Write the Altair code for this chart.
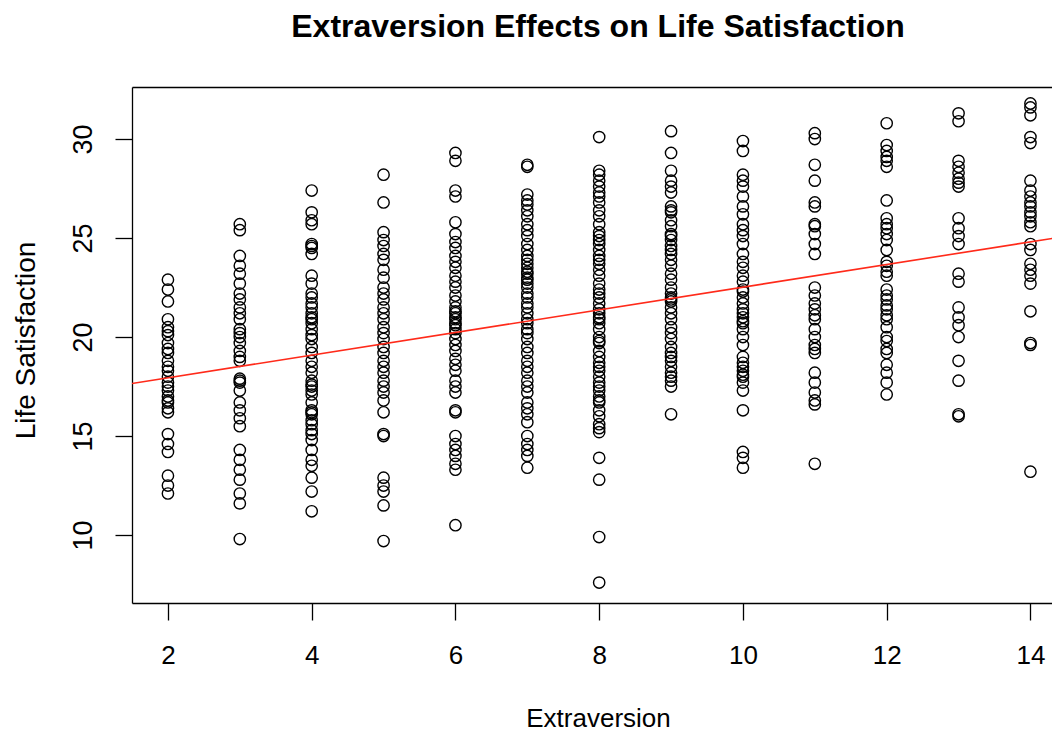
import altair as alt
import pandas as pd

# Life satisfaction scores, one list per extraversion level
ls_2 = [22.9, 22.4, 21.8, 20.9, 20.5, 20.3, 20.1, 19.7, 19.4, 19.2, 18.8, 18.5, 18.3, 18.0,
        17.7, 17.5, 17.3, 17.0, 16.8, 16.7, 16.4, 16.2, 15.1, 14.6, 14.2, 13.0, 12.5, 12.1]
ls_3 = [25.7, 25.4, 24.1, 23.6, 23.2, 22.7, 22.2, 21.9, 21.5, 21.2, 20.9, 20.4, 20.2, 20.0,
        19.7, 19.3, 19.0, 18.8, 17.9, 17.8, 17.7, 17.3, 16.7, 16.3, 15.9, 15.5, 14.3, 13.8,
        13.3, 12.8, 12.1, 11.6, 9.8]
ls_4 = [27.4, 26.3, 25.9, 25.7, 24.7, 24.6, 24.5, 24.2, 23.1, 22.7, 22.2, 22.0, 21.7, 21.5,
        21.2, 21.0, 20.9, 20.7, 20.4, 20.1, 19.9, 19.5, 19.2, 18.8, 18.5, 18.2, 17.8, 17.6,
        17.5, 17.3, 17.1, 16.7, 16.3, 16.2, 16.1, 15.8, 15.6, 15.3, 15.1, 14.8, 14.3, 13.8,
        13.5, 12.9, 12.2, 11.2]
ls_5 = [28.2, 26.8, 25.3, 24.9, 24.6, 24.2, 23.9, 23.4, 23.0, 22.5, 22.2, 21.9, 21.5, 21.2,
        20.9, 20.5, 20.2, 19.9, 19.5, 19.2, 18.8, 18.5, 18.2, 17.8, 17.5, 17.2, 16.8, 16.2,
        15.1, 15.0, 12.9, 12.5, 12.2, 11.5, 9.7]
ls_6 = [29.3, 28.9, 27.4, 27.1, 25.8, 25.2, 24.8, 24.5, 24.1, 23.8, 23.5, 23.1, 22.8, 22.5,
        22.1, 21.8, 21.5, 21.3, 21.2, 21.0, 20.9, 20.7, 20.6, 20.4, 20.2, 19.9, 19.6, 19.3,
        18.9, 18.6, 18.3, 17.8, 17.5, 17.2, 16.3, 16.2, 15.0, 14.6, 14.3, 14.0, 13.6, 13.3,
        10.5]
ls_7 = [28.7, 28.6, 27.2, 26.9, 26.7, 26.4, 26.1, 25.7, 25.4, 25.1, 24.7, 24.4, 24.1, 23.9,
        23.7, 23.5, 23.3, 23.2, 23.0, 22.9, 22.7, 22.5, 22.2, 22.0, 21.7, 21.5, 21.2, 20.9,
        20.7, 20.4, 20.2, 19.9, 19.5, 19.2, 18.8, 18.5, 18.2, 17.8, 17.5, 17.2, 16.7, 16.4,
        16.1, 15.7, 15.0, 14.6, 14.3, 14.0, 13.4]
ls_8 = [30.1, 28.4, 28.2, 27.9, 27.6, 27.3, 27.1, 26.8, 26.4, 26.1, 25.7, 25.3, 25.1, 24.9,
        24.7, 24.4, 24.1, 23.9, 23.7, 23.4, 23.1, 22.7, 22.4, 22.2, 22.0, 21.7, 21.4, 21.2,
        21.0, 20.9, 20.7, 20.4, 20.0, 19.8, 19.7, 19.3, 19.0, 18.7, 18.5, 18.3, 18.0, 17.7,
        17.5, 17.3, 17.0, 16.8, 16.7, 16.3, 16.0, 15.6, 15.4, 15.2, 13.9, 12.8, 9.9, 7.6]
ls_9 = [30.4, 29.3, 28.4, 27.9, 27.6, 27.3, 26.6, 26.4, 26.3, 25.9, 25.6, 25.2, 25.1, 24.9,
        24.6, 24.4, 24.2, 23.9, 23.6, 23.2, 22.9, 22.5, 22.2, 22.0, 21.9, 21.8, 21.5, 21.2,
        20.9, 20.5, 20.2, 19.9, 19.5, 19.2, 19.0, 18.8, 18.5, 18.2, 18.0, 17.8, 17.5, 16.1]
ls_10 = [29.9, 29.4, 28.2, 27.9, 27.6, 27.1, 26.6, 26.2, 25.7, 25.4, 25.1, 24.7, 24.2, 23.8,
         23.5, 23.1, 22.8, 22.4, 22.3, 22.0, 21.7, 21.4, 21.2, 21.0, 20.8, 20.7, 20.4, 20.0,
         19.6, 19.0, 18.7, 18.5, 18.3, 18.1, 18.0, 17.7, 17.3, 16.3, 14.2, 13.9, 13.4]
ls_11 = [30.3, 30.0, 28.7, 27.9, 26.8, 26.6, 25.7, 25.6, 25.2, 24.7, 24.2, 22.5, 22.1, 21.7,
         21.4, 21.1, 20.9, 20.4, 20.0, 19.6, 19.4, 19.2, 18.2, 17.7, 17.2, 16.8, 16.6, 13.6]
ls_12 = [30.8, 29.7, 29.4, 29.1, 28.9, 28.6, 26.9, 26.0, 25.7, 25.5, 25.2, 24.9, 24.4, 23.8,
         23.6, 23.3, 23.1, 22.4, 22.1, 21.9, 21.6, 21.4, 21.1, 20.9, 20.5, 20.0, 19.8, 19.4,
         19.2, 18.6, 18.2, 17.7, 17.1]
ls_13 = [31.3, 30.9, 28.9, 28.6, 28.3, 28.0, 27.8, 27.6, 26.0, 25.5, 25.1, 24.7, 23.2, 22.8,
         21.5, 21.0, 20.6, 20.0, 18.8, 17.8, 16.1, 16.0]
ls_14 = [31.8, 31.6, 31.2, 30.1, 29.8, 27.9, 27.4, 27.1, 26.8, 26.6, 26.3, 26.1, 25.8, 25.6,
         24.7, 24.4, 23.7, 23.4, 23.1, 22.7, 21.3, 19.7, 19.6, 13.2]

levels = [2, 3, 4, 5, 6, 7, 8, 9, 10, 11, 12, 13, 14]
columns = [ls_2, ls_3, ls_4, ls_5, ls_6, ls_7, ls_8, ls_9, ls_10, ls_11, ls_12, ls_13, ls_14]

# fitted line
fit_intercept = 16.8
fit_slope = 0.572

x_ticks = [2, 4, 6, 8, 10, 12, 14]
y_ticks = [10, 15, 20, 25, 30]
x_domain = [1.5, 14.3]
y_domain = [6.57, 32.63]

rows = []
for lvl, vals in zip(levels, columns):
    for v in vals:
        rows.append({"Extraversion": lvl, "LifeSat": v})
df = pd.DataFrame(rows)

line_df = pd.DataFrame({
    "Extraversion": [0.0, 16.0],
    "LifeSat": [fit_intercept, fit_intercept + fit_slope * 16.0],
})

FONT = "Liberation Sans"

x_scale = alt.Scale(domain=x_domain, nice=False, zero=False)
y_scale = alt.Scale(domain=y_domain, nice=False, zero=False)

points = alt.Chart(df).mark_point(
    shape="circle", filled=False, color="black", size=128, strokeWidth=1.4, opacity=1
).encode(
    x=alt.X("Extraversion:Q", scale=x_scale, axis=alt.Axis(
        values=x_ticks, title="Extraversion", grid=False,
        labelFont=FONT, labelFontSize=26, labelColor="black",
        labelBaseline="alphabetic", labelPadding=43, labelFlush=False,
        tickSize=17, tickColor="black", tickWidth=1.3,
        domainColor="black", domainWidth=1.3,
        titleFont=FONT, titleFontSize=26, titleFontWeight="normal", titleColor="black",
        titleBaseline="alphabetic", titleX=466, titleY=123, titleAlign="center",
    )),
    y=alt.Y("LifeSat:Q", scale=y_scale, axis=alt.Axis(
        values=y_ticks, title="Life Satisfaction", grid=False,
        labelFont=FONT, labelFontSize=27, labelColor="black", labelAngle=270,
        labelAlign="center", labelBaseline="alphabetic", labelPadding=24, labelFlush=False,
        tickSize=17, tickColor="black", tickWidth=1.3,
        domainColor="black", domainWidth=1.3,
        titleFont=FONT, titleFontSize=28, titleFontWeight="normal", titleColor="black",
        titleAngle=270, titleBaseline="alphabetic", titleAlign="center",
        titleX=-98, titleY=253,
    )),
)

line = alt.Chart(line_df).mark_line(color="#ff2a1a", strokeWidth=1.6, clip=True).encode(
    x=alt.X("Extraversion:Q", scale=x_scale, axis=alt.Axis(
        orient="top", labels=False, ticks=False, title=None, grid=False,
        domainColor="black", domainWidth=1.3,
    )),
    y=alt.Y("LifeSat:Q", scale=y_scale),
)

chart = alt.layer(points, line).resolve_axis(x="independent").properties(
    width=920,
    height=516,
    title=alt.TitleParams(
        text="Extraversion Effects on Life Satisfaction",
        font=FONT, fontSize=32, fontWeight="bold", color="black",
        anchor="middle", frame="group", dx=6, baseline="alphabetic", offset=18,
    ),
    autosize=alt.AutoSizeParams(type="none"),
    padding={"left": 124, "top": 79, "right": 0, "bottom": 135},
).configure_view(stroke=None)

chart.save("out.html", embed_options={"renderer": "svg", "actions": False})
